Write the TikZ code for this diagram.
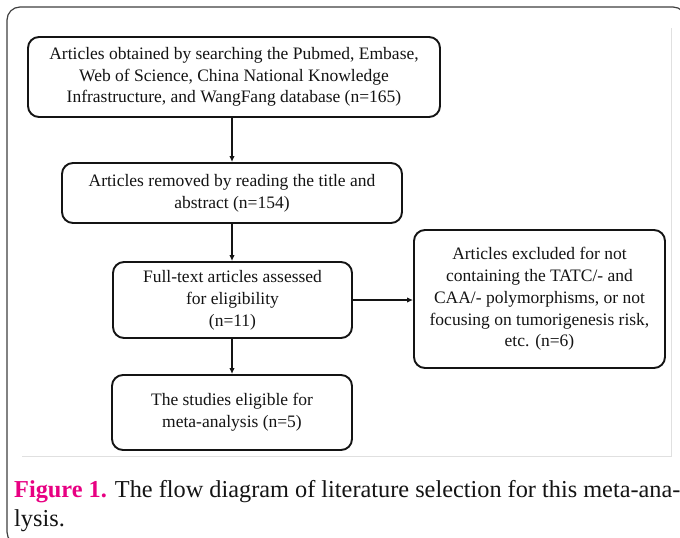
\documentclass[tikz,border=0pt]{standalone}
\usepackage{fontspec}
\setmainfont{Liberation Serif}
\usetikzlibrary{arrows.meta}
\definecolor{txt}{RGB}{20,20,20}
\definecolor{figpink}{RGB}{232,0,130}
\begin{document}
\begin{tikzpicture}[x=1pt,y=-1pt,
  flowbox/.style={draw=txt, line width=1.9pt, rounded corners=11pt, align=center,
    text=txt, font=\fontsize{17.5}{21.8}\selectfont, inner sep=0pt},
  conn/.style={draw=txt, line width=1.8pt, -{Latex[length=6pt,width=5.5pt]}}]
\useasboundingbox (0,0) rectangle (680,538);
\clip (0,0) rectangle (680,538);
\fill[white] (0,0) rectangle (680,538);
% outer frame
\draw[line width=1.2pt, draw=black!75, rounded corners=13pt] (7,7) rectangle (686,545);
% inner figure border
\draw[line width=0.8pt, draw=black!12] (22,456) -- (671,456) -- (671,28);
% boxes
\node[flowbox, minimum width=412pt, minimum height=80pt] (b1) at (234,77)
  {Articles obtained by searching the Pubmed, Embase,\\Web of Science, China National Knowledge\\Infrastructure, and WangFang database (n=165)};
\node[flowbox, minimum width=340pt, minimum height=60pt] (b2) at (232,193)
  {Articles removed by reading the title and\\abstract (n=154)};
\node[flowbox, minimum width=239pt, minimum height=76pt] (b3) at (232.5,300)
  {Full-text articles assessed\\for eligibility\\(n=11)};
\node[flowbox, minimum width=251pt, minimum height=138pt] (b4) at (539.5,299)
  {Articles excluded for not\\containing the TATC/- and\\CAA/- polymorphisms, or not\\focusing on tumorigenesis risk,\\etc. (n=6)};
\node[flowbox, minimum width=240pt, minimum height=75pt] (b5) at (232,412.5)
  {The studies eligible for\\meta-analysis (n=5)};
% connectors
\draw[conn] (b1.south -| b2.north) -- (b2.north);
\draw[conn] (b2.south) -- (b2.south |- b3.north);
\draw[conn] (b3.south -| b5.north) -- (b5.north);
\draw[conn] (b3.east) -- (b3.east -| b4.west);
% caption
\node[anchor=base west, inner sep=0pt, text=txt, font=\fontsize{24.3}{28}\selectfont] (cap1) at (14,497)
  {\textcolor{figpink}{\textbf{Figure 1.}} The flow diagram of literature selection for this meta-ana-};
\node[anchor=base west, inner sep=0pt, text=txt, font=\fontsize{24.3}{28}\selectfont] (cap2) at (14,526)
  {lysis.};
\end{tikzpicture}
\end{document}
